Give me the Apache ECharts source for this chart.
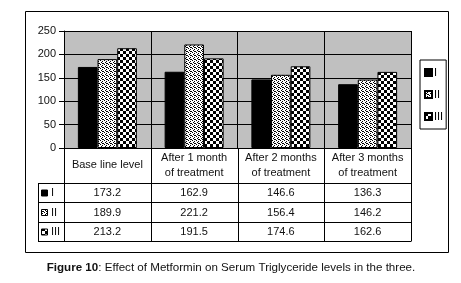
<!DOCTYPE html>
<html>
<head>
<meta charset="utf-8">
<script src="https://cdn.jsdelivr.net/npm/echarts@6/dist/echarts.min.js"></script>
<style>
  html, body { margin: 0; padding: 0; background: #fff; }
  #container { width: 461px; height: 283px; }
</style>
</head>
<body>
<div id="container"></div>
<script>
// data
const categories = ['Base line level', 'After 1 month\nof treatment', 'After 2 months\nof treatment', 'After 3 months\nof treatment'];
const seriesNames = ['I', 'II', 'III'];
const valuesI   = [173.2, 162.9, 146.6, 136.3];
const valuesII  = [189.9, 221.2, 156.4, 146.2];
const valuesIII = [213.2, 191.5, 174.6, 162.6];
const yTicks = [0, 50, 100, 150, 200, 250];
const captionBold = 'Figure 10';
const captionRest = ': Effect of Metformin on Serum Triglyceride levels in the three.';

const FONT = '"Liberation Sans", Arial, sans-serif';

// layout
const G = { left: 64, top: 31, right: 411, bottom: 148 };
const rowLines = [183, 202, 222, 241];
const tableLeft = 38;

// fill patterns like the old excel hatches
function makePattern(kind) {
    const c = document.createElement('canvas');
    const ctx = c.getContext('2d');
    if (kind === 'dots') {
        c.width = 4; c.height = 4;
        ctx.fillStyle = '#fff';
        ctx.fillRect(0, 0, 4, 4);
        ctx.fillStyle = '#000';
        [[0, 0], [2, 1], [1, 2], [3, 3], [2, 3]].forEach(p => ctx.fillRect(p[0], p[1], 1, 1));
    } else {
        c.width = 6; c.height = 6;
        ctx.fillStyle = '#fff';
        ctx.fillRect(0, 0, 6, 6);
        ctx.fillStyle = '#000';
        ctx.fillRect(0, 0, 3, 3);
        ctx.fillRect(3, 3, 3, 3);
    }
    return { image: c, repeat: 'repeat' };
}

const fills = ['#000', makePattern('dots'), makePattern('check')];
const seriesValues = [valuesI, valuesII, valuesIII];

let option = {
    animation: false,
    textStyle: { fontFamily: FONT },
    grid: {
        left: G.left,
        top: G.top,
        width: G.right - G.left,
        height: G.bottom - G.top,
        show: true,
        backgroundColor: '#c0c0c0',
        borderColor: '#000',
        borderWidth: 0
    },
    legend: {
        orient: 'vertical',
        left: 420,
        top: 60,
        itemWidth: 7,
        itemHeight: 7,
        itemGap: 11,
        padding: [7, 3, 7, 4],
        borderColor: '#000',
        borderWidth: 1,
        icon: 'rect',
        textStyle: { fontSize: 11, color: '#000', fontFamily: FONT, padding: [0, 0, 0, -3] },
        data: seriesNames
    },
    xAxis: {
        type: 'category',
        data: categories,
        axisLine: { show: true, lineStyle: { color: '#000', width: 1 } },
        axisTick: { show: false },
        splitLine: { show: true, interval: 0, lineStyle: { color: '#000', width: 1 } },
        axisLabel: {
            interval: 0,
            fontSize: 11,
            color: '#111',
            lineHeight: 15,
            margin: 17,
            verticalAlign: 'middle',
            fontFamily: FONT
        }
    },
    yAxis: {
        type: 'value',
        min: yTicks[0],
        max: yTicks[yTicks.length - 1],
        interval: 50,
        axisLine: { show: true, lineStyle: { color: '#000' } },
        axisTick: { show: true, length: 5, lineStyle: { color: '#000' } },
        splitLine: { show: true, lineStyle: { color: '#000', width: 1 } },
        axisLabel: { fontSize: 11, color: '#111', margin: 8, fontFamily: FONT }
    },
    series: seriesNames.map((name, i) => ({
        name: name,
        type: 'bar',
        data: seriesValues[i],
        barGap: '0%',
        barCategoryGap: '32%',
        itemStyle: { color: fills[i], borderColor: '#000', borderWidth: 1 }
    }))
};

let chartDom = document.getElementById('container');
let chrt = echarts.init(chartDom, null, { renderer: 'canvas' });
chrt.setOption(option);

// data table + frame + caption drawn under the axis
function buildTable() {
    const els = [];
    const line = (x1, y1, x2, y2) => els.push({
        type: 'line', silent: true,
        shape: { x1: x1, y1: y1, x2: x2, y2: y2 },
        style: { stroke: '#000', lineWidth: 1 }
    });
    const bounds = [G.left];
    const centers = categories.map(c => chrt.convertToPixel({ xAxisIndex: 0 }, c));
    for (let i = 0; i < centers.length - 1; i++) bounds.push((centers[i] + centers[i + 1]) / 2);
    bounds.push(G.right);

    // outer frame
    els.push({ type: 'rect', silent: true, shape: { x: 25.5, y: 11.5, width: 423, height: 241 },
        style: { fill: null, stroke: '#000', lineWidth: 1 }, z: -10 });

    // table lines
    rowLines.forEach(y => line(tableLeft, y + 0.5, G.right, y + 0.5));
    bounds.forEach(x => line(Math.round(x) + 0.5, G.bottom, Math.round(x) + 0.5, rowLines[rowLines.length - 1] + 0.5));
    line(tableLeft + 0.5, rowLines[0], tableLeft + 0.5, rowLines[rowLines.length - 1] + 0.5);
    line(G.right + 0.5, G.top, G.right + 0.5, G.bottom);

    // rows
    seriesNames.forEach((name, r) => {
        const yc = (rowLines[r] + rowLines[r + 1]) / 2 + 0.5;
        els.push({ type: 'rect', silent: true, shape: { x: 41.5, y: yc - 3, width: 6, height: 6 },
            style: { fill: fills[r], stroke: '#000', lineWidth: 1 } });
        els.push({ type: 'text', silent: true, x: 51, y: yc,
            style: { text: name, font: '11px ' + FONT, fill: '#111', verticalAlign: 'middle' } });
        seriesValues[r].forEach((v, c) => {
            els.push({ type: 'text', silent: true, x: centers[c], y: yc,
                style: { text: v.toFixed(1), font: '11px ' + FONT, fill: '#111',
                    align: 'center', verticalAlign: 'middle' } });
        });
    });

    // caption
    els.push({ type: 'text', silent: true, x: 231, y: 268,
        style: {
            text: '{b|' + captionBold + '}{n|' + captionRest + '}',
            align: 'center', verticalAlign: 'middle',
            rich: {
                b: { fontFamily: FONT, fontSize: 11.6, fontWeight: 'bold', fill: '#111' },
                n: { fontFamily: FONT, fontSize: 11.6, fill: '#111' }
            }
        } });

    chrt.setOption({ graphic: els });
}
buildTable();
</script>
</body>
</html>
